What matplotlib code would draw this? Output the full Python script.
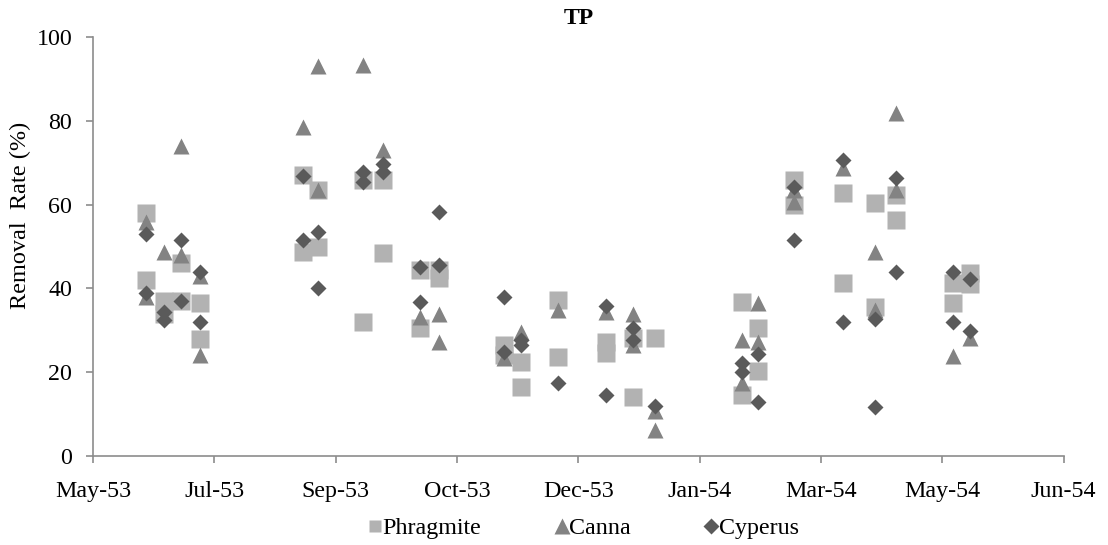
import matplotlib
matplotlib.use("Agg")
import matplotlib.pyplot as plt

# x is in units of the date-axis ticks (0 = May-53, 1 = Jul-53, ...)
tick_labels = ["May-53", "Jul-53", "Sep-53", "Oct-53", "Dec-53",
               "Jan-54", "Mar-54", "May-54", "Jun-54"]

phrag_x = [0.437, 0.437, 0.585, 0.585, 0.725, 0.725, 0.881, 0.881,
           1.730, 1.730, 1.853, 1.853, 2.224, 2.224, 2.389, 2.389,
           2.694, 2.694, 2.850, 2.850, 3.386, 3.386, 3.526, 3.526,
           3.830, 3.830, 4.226, 4.226, 4.448, 4.448, 4.629,
           5.346, 5.346, 5.478, 5.478, 5.774, 5.774, 6.178, 6.178,
           6.441, 6.441, 6.614, 6.614, 7.084, 7.084, 7.224, 7.224]
phrag_y = [58, 42, 37, 34, 46, 37, 36.5, 28,
           67, 48.7, 63.5, 50, 66, 32, 66, 48.4,
           44.4, 30.5, 44.4, 42.5, 26.5, 24, 22.5, 16.5,
           37.2, 23.6, 27.2, 24.5, 28.2, 14, 28.2,
           36.7, 14.6, 30.5, 20.3, 66, 60, 62.8, 41.3,
           60.4, 35.6, 62.3, 56.3, 41.3, 36.5, 43.7, 41]

canna_x = [0.437, 0.437, 0.585, 0.725, 0.725, 0.881, 0.881,
           1.730, 1.853, 1.853, 2.224, 2.389,
           2.694, 2.850, 2.850, 3.386, 3.526, 3.830, 4.226,
           4.448, 4.448, 4.629, 4.629, 5.346, 5.346, 5.478, 5.478,
           5.774, 5.774, 6.178, 6.441, 6.441, 6.614, 6.614, 7.084, 7.224]
canna_y = [55.8, 38, 48.7, 74, 48, 43, 24,
           78.6, 93, 63.5, 93.3, 73,
           33.2, 34, 27.2, 23.3, 29.6, 34.8, 34.4,
           34, 26.5, 10.8, 6.2, 27.7, 17.4, 36.5, 27.2,
           63.5, 60.6, 68.7, 48.7, 34.8, 81.8, 63.5, 23.9, 28.2]

cyp_x = [0.437, 0.437, 0.585, 0.585, 0.725, 0.725, 0.881, 0.881,
         1.730, 1.730, 1.853, 1.853, 2.224, 2.224, 2.389, 2.389,
         2.694, 2.694, 2.850, 2.850, 3.386, 3.386, 3.526, 3.526,
         3.830, 4.226, 4.226, 4.448, 4.448, 4.629,
         5.346, 5.346, 5.478, 5.478, 5.774, 5.774, 6.178, 6.178,
         6.441, 6.441, 6.614, 6.614, 7.084, 7.084, 7.224, 7.224]
cyp_y = [53, 39, 34.4, 32.5, 51.5, 37, 44, 32,
         66.8, 51.5, 53.5, 40, 67.8, 65.5, 69.7, 67.8,
         45, 36.8, 45.6, 58.2, 38, 24.8, 27.7, 26.5,
         17.4, 35.8, 14.6, 30.5, 27.7, 12,
         22.2, 20, 24.3, 12.9, 64.3, 51.5, 70.6, 32,
         32.7, 11.7, 66.3, 44, 44, 32, 42.2, 29.8]

plt.rcParams['font.family'] = ['Liberation Serif', 'DejaVu Serif']
plt.rcParams['font.size'] = 17.3

fig = plt.figure(figsize=(11.08, 5.45), dpi=100)
ax = fig.add_axes([0.0839, 0.1633, 0.8761, 0.7687])

ax.plot(phrag_x, phrag_y, ls='none', marker='s', ms=12.8, color='#b2b2b2',
        mec='none', label='Phragmite')
ax.plot(canna_x, canna_y, ls='none', marker='^', ms=12, color='#838383',
        mec='none', label='Canna')
ax.plot(cyp_x, cyp_y, ls='none', marker='D', ms=8.5, color='#5a5a5a',
        mec='none', label='Cyperus')

ax.set_xlim(0, 8)
ax.set_ylim(0, 100)
ax.set_xticks(range(len(tick_labels)))
ax.set_xticklabels(tick_labels)
ax.set_yticks([0, 20, 40, 60, 80, 100])

for s in ['top', 'right']:
    ax.spines[s].set_visible(False)
for s in ['left', 'bottom']:
    ax.spines[s].set_color('#8c8c8c')
    ax.spines[s].set_linewidth(1.2)
ax.tick_params(colors='#8c8c8c', labelcolor='black', length=5, width=1.2)
ax.tick_params(axis='x', pad=13)
ax.tick_params(axis='y', pad=10)

fig.text(20/1108, 1 - 215/545, 'Removal  Rate (%)', rotation=90,
         ha='center', va='center', fontsize=17.5)
fig.text(0.522, 1 - 18/545, 'TP', fontweight='bold', ha='center',
         va='center', fontsize=17)

leg = ax.legend(loc='center', bbox_to_anchor=(0.504, -0.172), ncol=3,
                frameon=False, handletextpad=-0.1, columnspacing=2.95,
                handlelength=0.8)
for h, m in zip(leg.legend_handles, [9.3, 11, 8.4]):
    h.set_markersize(m)

fig.savefig('out.png', dpi=100)
